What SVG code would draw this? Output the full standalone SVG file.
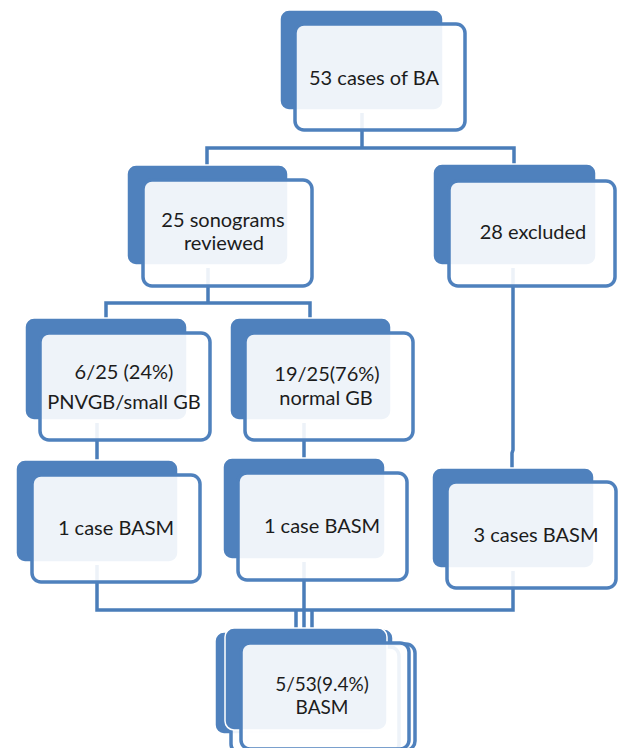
<svg xmlns="http://www.w3.org/2000/svg" width="618" height="748" viewBox="0 0 618 748">
<style>
.bg{fill:#4f81bd;stroke:#ffffff;stroke-width:1.5}
.fr{fill:#ffffff;fill-opacity:0.9;stroke:#4f81bd;stroke-width:3.5}
.cn{fill:none;stroke:#4a7db9;stroke-width:3.5;stroke-linejoin:miter}
text{font-family:Lato,"Liberation Sans",sans-serif;font-size:20px;fill:#1c1c1c;text-anchor:middle}
.sm{font-size:19px}
</style>
<rect width="618" height="748" fill="#ffffff"/>
<g id="connectors">
<path class="cn" d="M207 166 V148 H514 V165 M362 113 V148"/>
<path class="cn" d="M208 268 V303 M106 319 V303 H310 V319"/>
<path class="cn" d="M513 268 V450 L512 453 V469"/>
<path class="cn" d="M97 423 V461 M304 423 V459"/>
<path class="cn" d="M97 565 V610 H513 V571 M304 562 V628 M296 610 V628 M312 610 V628"/>
</g>
<g id="n1">
<rect class="bg" x="280" y="10" width="163" height="100" rx="9"/>
<rect class="fr" x="295" y="24" width="170" height="106" rx="9"/>
<text x="374" y="85">53 cases of BA</text>
</g>
<g id="n2">
<rect class="bg" x="127" y="165" width="161" height="100" rx="9"/>
<rect class="fr" x="143" y="180" width="169" height="106" rx="9"/>
<text x="223" y="227">25 sonograms</text>
<text x="224" y="250">reviewed</text>
</g>
<g id="n3">
<rect class="bg" x="433" y="164" width="163" height="101" rx="9"/>
<rect class="fr" x="449" y="181" width="166" height="105" rx="9"/>
<text x="533" y="239">28 excluded</text>
</g>
<g id="n4">
<rect class="bg" x="25" y="318" width="162" height="102" rx="9"/>
<rect class="fr" x="40" y="333" width="170" height="107" rx="9"/>
<text x="124" y="379">6/25 (24%)</text>
<text x="124" y="409">PNVGB/small GB</text>
</g>
<g id="n5">
<rect class="bg" x="230" y="318" width="161" height="102" rx="9"/>
<rect class="fr" x="245" y="333" width="168" height="107" rx="9"/>
<text x="327" y="381">19/25(76%)</text>
<text x="326" y="405">normal GB</text>
</g>
<g id="n6">
<rect class="bg" x="16" y="460" width="162" height="102" rx="9"/>
<rect class="fr" x="32" y="475" width="168" height="107" rx="9"/>
<text x="116" y="535">1 case BASM</text>
</g>
<g id="n7">
<rect class="bg" x="223" y="458" width="162" height="101" rx="9"/>
<rect class="fr" x="238" y="473" width="169" height="107" rx="9"/>
<text x="322" y="533">1 case BASM</text>
</g>
<g id="n8">
<rect class="bg" x="432" y="468" width="162" height="100" rx="9"/>
<rect class="fr" x="447" y="482" width="169" height="106" rx="9"/>
<text x="536" y="542">3 cases BASM</text>
</g>
<g id="n9">
<rect class="bg" x="231" y="629" width="162" height="102" rx="9"/>
<rect class="fr" x="247" y="644" width="168" height="106" rx="9"/>
<rect class="bg" x="215" y="632" width="162" height="102" rx="9"/>
<rect class="fr" x="231" y="647" width="168" height="106" rx="9"/>
<rect class="bg" x="225" y="628" width="162" height="102" rx="9"/>
<rect class="fr" x="241" y="643" width="168" height="106" rx="9"/>
<text class="sm" x="322" y="691">5/53(9.4%)</text>
<text class="sm" x="322" y="714">BASM</text>
</g>
</svg>
